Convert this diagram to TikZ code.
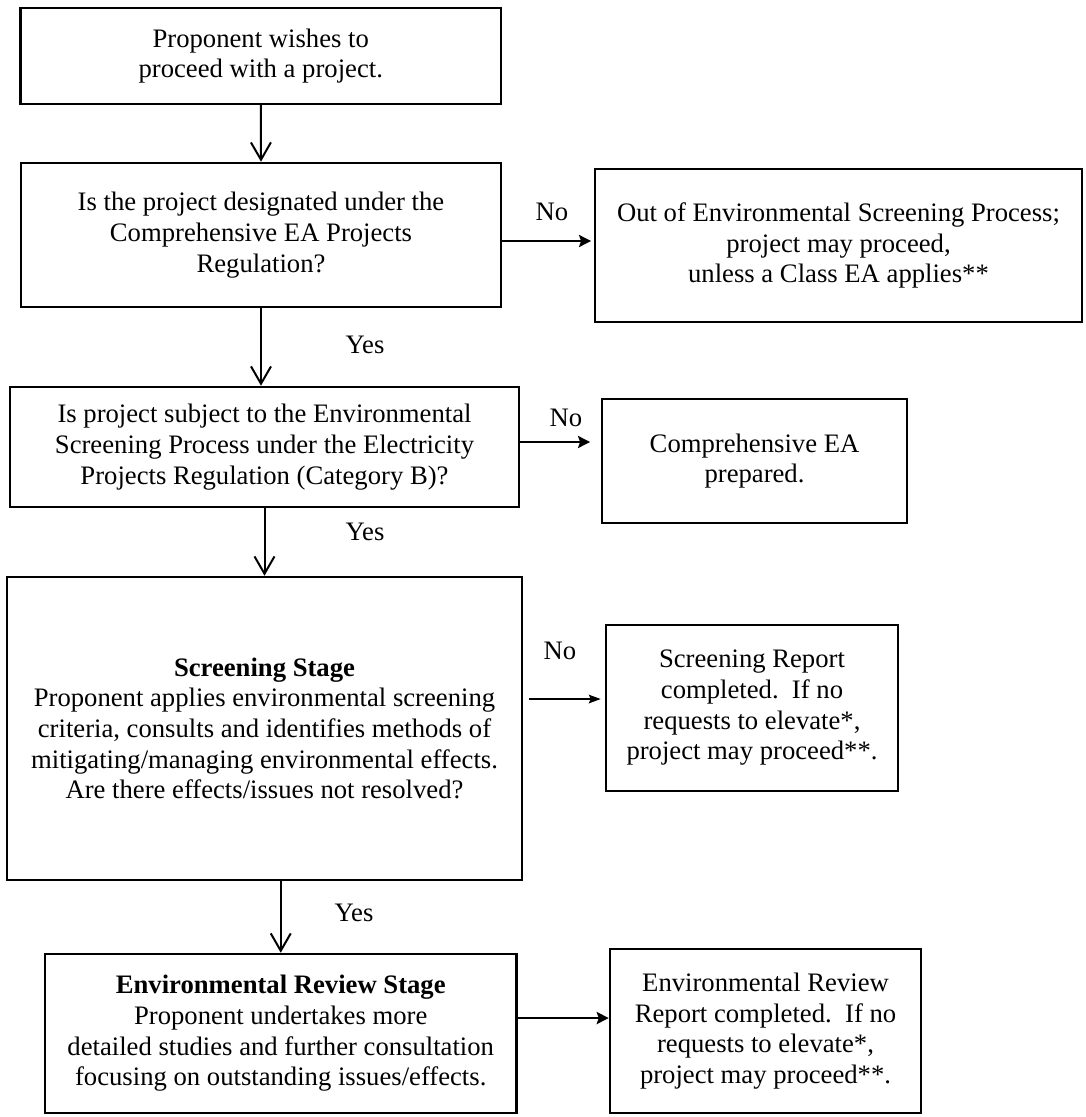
\documentclass[tikz,border=0pt]{standalone}
\usepackage{fontspec}
\setmainfont{Liberation Serif}
\usetikzlibrary{arrows.meta,calc}
\begin{document}
\begin{tikzpicture}[x=0.75pt,y=-0.75pt,
  txt/.style={font=\fontsize{20pt}{23pt}\selectfont},
  box/.style={txt,draw,line width=1.9pt,align=center,inner sep=0pt},
  lbl/.style={txt,inner sep=0pt},
  down/.style={line width=1.5pt,-{Straight Barb[length=13pt,width=15pt]}},
  harrow/.style={line width=1.9pt,-{Stealth[length=9pt,width=9pt,inset=1.5pt]}},
  thinarrow/.style={line width=1pt,-{Stealth[length=9pt,width=6.5pt,inset=1.5pt]}}]
\useasboundingbox (0,0) rectangle (1085,1117);

\node[box,minimum width=360.4pt,minimum height=71.8pt] (b1) at (260.75,56)
  {Proponent wishes to\\proceed with a project.};
\node[box,minimum width=360pt,minimum height=108pt] (b2) at (261,235)
  {Is the project designated under the\\Comprehensive EA Projects\\Regulation?};
\node[box,minimum width=365.25pt,minimum height=114.75pt] (r1) at (838.5,245.5)
  {Out of Environmental Screening Process;\\project may proceed,\\unless a Class EA applies**};
\node[box,minimum width=381.75pt,minimum height=90pt] (b3) at (264.5,447)
  {Is project subject to the Environmental\\Screening Process under the Electricity\\Projects Regulation (Category B)?};
\node[box,minimum width=228.75pt,minimum height=93pt] (r2) at (754.5,461)
  {Comprehensive EA\\prepared.};
\node[box,minimum width=386.25pt,minimum height=227.25pt] (b4) at (264.5,728.5)
  {\textbf{Screening Stage}\\Proponent applies environmental screening\\criteria, consults and identifies methods of\\mitigating/managing environmental effects.\\Are there effects/issues not resolved?};
\node[box,minimum width=219pt,minimum height=124.5pt] (r3) at (752,708)
  {Screening Report\\completed.\ \ If no\\requests to elevate*,\\project may proceed**.};
\node[box,minimum width=353.6pt,minimum height=119.25pt] (b5) at (280.75,1033.5)
  {\textbf{Environmental Review Stage}\\Proponent undertakes more\\detailed studies and further consultation\\focusing on outstanding issues/effects.};
\node[box,minimum width=233.25pt,minimum height=123pt] (r4) at (765.5,1031)
  {Environmental Review\\Report completed.\ \ If no\\requests to elevate*,\\project may proceed**.};

\node[lbl] (no1) at (552,212) {No};
\node[lbl] (no2) at (566,418) {No};
\node[lbl] (no3) at (560,651) {No};
\node[lbl] (yes1) at (365,345) {Yes};
\node[lbl] (yes2) at (365,532) {Yes};
\node[lbl] (yes3) at (354,913) {Yes};

\draw[down] (b1.south) -- (b2.north);
\draw[down] (b2.south) -- (b2.south |- b3.north);
\draw[down] (b3.south) -- (b4.north);
\draw[down] (b5.north |- b4.south) -- (b5.north);

\draw[harrow,shorten >=2pt] ([yshift=-4.5pt]b2.east) -- ([yshift=-4.5pt]b2.east -| r1.west);
\draw[harrow,shorten >=8pt] ([yshift=3.75pt]b3.east) -- ([yshift=3.75pt]b3.east -| r2.west);
\draw[thinarrow,shorten <=4.5pt,shorten >=3pt] ([yshift=22.1pt]b4.east) -- ([yshift=22.1pt]b4.east -| r3.west);
\draw[harrow] ([yshift=11.6pt]b5.east) -- ([yshift=11.6pt]b5.east -| r4.west);
\end{tikzpicture}
\end{document}
